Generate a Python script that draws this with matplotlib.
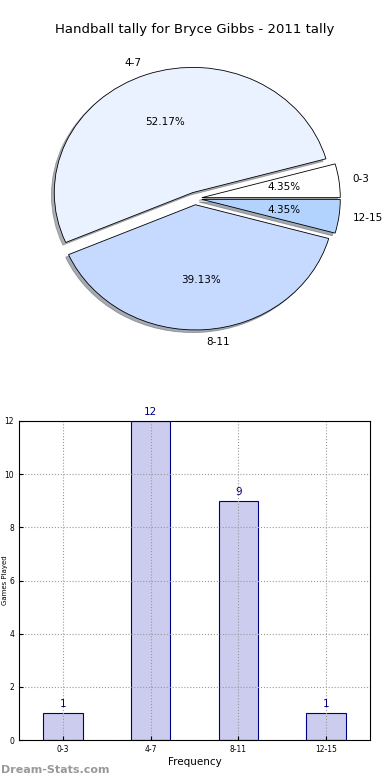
import matplotlib
matplotlib.use("Agg")
import matplotlib.pyplot as plt

categories = ["0-3", "4-7", "8-11", "12-15"]
counts = [1, 12, 9, 1]
pie_colors = ["#ffffff", "#ebf2ff", "#c6d9ff", "#b3d3ff"]
title = "Handball tally for Bryce Gibbs - 2011 tally"

fig = plt.figure(figsize=(3.9, 7.8), dpi=100)

# pie on top (not equal aspect, like the old output)
ax1 = fig.add_axes([22 / 390, 1 - 355 / 780, 346 / 390, 313 / 780])
wedges, texts, autotexts = ax1.pie(
    counts, labels=categories, colors=pie_colors, autopct="%.2f%%",
    explode=[0.05] * 4, shadow=dict(ox=-0.015, oy=-0.015, shade=0.6),
    startangle=0, labeldistance=1.1,
    wedgeprops=dict(edgecolor="black", linewidth=0.6),
    textprops=dict(fontsize=7.5))
ax1.set_aspect("auto")
ax1.set_xlim(-1.25, 1.25)
ax1.set_ylim(-1.25, 1.25)
ax1.axis("off")
fig.text(0.5, 1 - 30 / 780, title, ha="center", va="center", fontsize=9.5)

# bar chart below
ax2 = fig.add_axes([19 / 390, 1 - 740 / 780, 351 / 390, 319 / 780])
x = list(range(len(categories)))
ax2.bar(x, counts, width=0.45, color="#ccccee", edgecolor="navy", linewidth=0.8)
for xi, c in zip(x, counts):
    ax2.text(xi, c + 0.15, str(c), ha="center", va="bottom", color="navy", fontsize=7.5)
ax2.set_xlim(-0.5, 3.5)
ax2.set_ylim(0, 12)
ax2.set_yticks(range(0, 13, 2))
ax2.set_xticks(x)
ax2.set_xticklabels(categories)
ax2.tick_params(labelsize=5.5, direction="in", length=3)
ax2.grid(True, linestyle=":", color="#999999", linewidth=0.8)
ax2.set_xlabel("Frequency", fontsize=7.5, labelpad=2)
ax2.set_ylabel("Games Played", fontsize=5, va="center")
ax2.yaxis.set_label_coords(-13.5 / 351, 0.5)

fig.text(0.002, 1 - 770 / 780, "Dream-Stats.com", color="#999999",
         fontsize=8, fontweight="bold", ha="left", va="center")

fig.savefig("out.png", dpi=100)
